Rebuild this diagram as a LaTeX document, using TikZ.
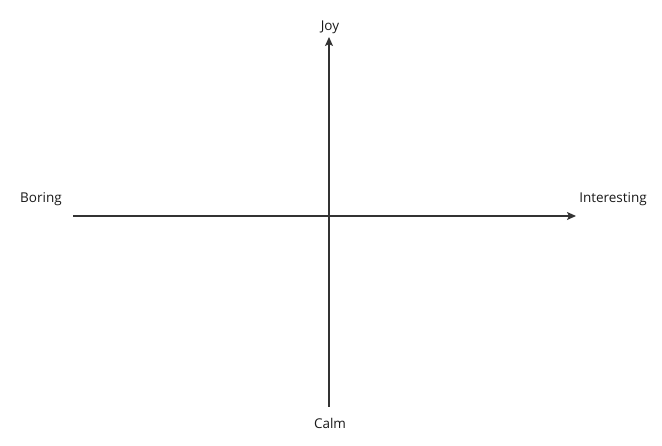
\documentclass[tikz,border=0pt]{standalone}
\usepackage{fontspec}
\setmainfont{Open Sans}
\usetikzlibrary{arrows.meta}
\usetikzlibrary{positioning}

\begin{document}
\begin{tikzpicture}[x=1pt, y=-1pt,
    axis/.style={line width=1.3pt, draw=black!80, -{Stealth[length=9pt, width=8pt, inset=2pt]}},
    axislabel/.style={font=\fontsize{13.5}{15}\selectfont, text=black!90, inner sep=0pt}]
    \useasboundingbox (0,0) rectangle (662,446);

    % Axis ends
    \coordinate (west) at (73,216);
    \coordinate (east) at (576,216);
    \coordinate (south) at (329,407);
    \coordinate (north) at (329,37);

    % Axes
    \draw[axis] (west) -- (east);
    \draw[axis] (south) -- (north);

    % Labels
    \node[axislabel] (boring) at (41,199) {Boring};
    \node[axislabel] (interesting) at (613,199) {Interesting};
    \node[axislabel] (joy) at (330,27) {Joy};
    \node[axislabel] (calm) at (330,423) {Calm};
\end{tikzpicture}
\end{document}
